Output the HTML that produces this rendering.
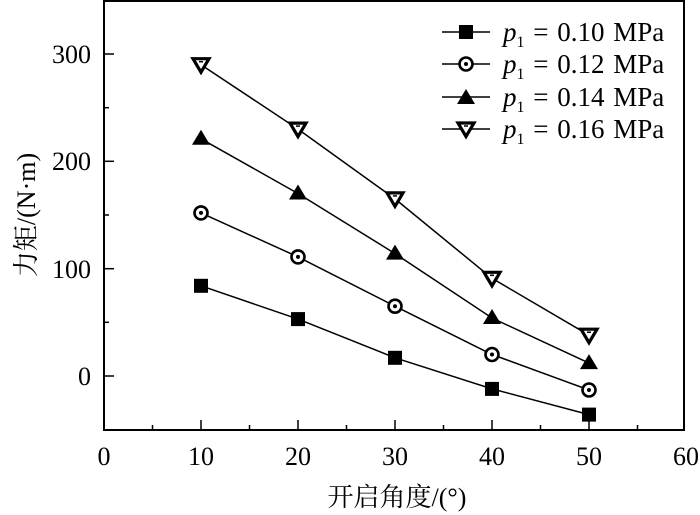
<!DOCTYPE html>
<html><head><style>body{margin:0;background:#fff}svg{display:block}</style></head><body>
<svg width="700" height="515" xmlns="http://www.w3.org/2000/svg" style="font-family:'Liberation Serif','Noto Serif CJK SC',serif">
<defs>
<g id="sq"><rect x="-7" y="-7" width="14" height="14" fill="#000"/></g>
<g id="ci"><circle r="6.5" fill="#fff" stroke="#000" stroke-width="2.6"/><circle r="2" fill="#000"/></g>
<g id="tr"><polygon points="0,-9 9,6 -9,6" fill="#000"/></g>
<g id="iv"><polygon points="-8,-6 8,-6 0,7.5" fill="#fff" stroke="#000" stroke-width="3.2" stroke-linejoin="miter"/><line x1="-2" y1="-3" x2="2" y2="-3" stroke="#000" stroke-width="1.5"/></g>
</defs>
<rect x="104" y="1" width="580" height="429" fill="none" stroke="#000" stroke-width="2"/>
<g stroke="#000" stroke-width="1.5">
<line x1="104" y1="376" x2="114" y2="376"/><line x1="104" y1="268.7" x2="114" y2="268.7"/><line x1="104" y1="161.3" x2="114" y2="161.3"/><line x1="104" y1="54" x2="114" y2="54"/>
<line x1="104" y1="322.3" x2="109" y2="322.3"/><line x1="104" y1="215" x2="109" y2="215"/><line x1="104" y1="107.7" x2="109" y2="107.7"/>
<line x1="201" y1="430" x2="201" y2="420"/><line x1="298" y1="430" x2="298" y2="420"/><line x1="395" y1="430" x2="395" y2="420"/><line x1="492" y1="430" x2="492" y2="420"/><line x1="589" y1="430" x2="589" y2="420"/>
<line x1="152.5" y1="430" x2="152.5" y2="425"/><line x1="249.5" y1="430" x2="249.5" y2="425"/><line x1="346.5" y1="430" x2="346.5" y2="425"/><line x1="443.5" y1="430" x2="443.5" y2="425"/><line x1="540.5" y1="430" x2="540.5" y2="425"/><line x1="637.5" y1="430" x2="637.5" y2="425"/>
</g>
<g style="font-size:26px" text-anchor="end">
<text x="91" y="385">0</text><text x="91" y="278">100</text><text x="91" y="170">200</text><text x="91" y="63">300</text>
</g>
<g style="font-size:26px" text-anchor="middle">
<text x="104" y="465">0</text><text x="201" y="465">10</text><text x="298" y="465">20</text><text x="395" y="465">30</text><text x="492" y="465">40</text><text x="589" y="465">50</text><text x="686" y="465">60</text>
</g>
<g style="font-size:26px" text-anchor="middle">
<text x="397" y="506">开启角度/(°)</text>
<text transform="translate(35,215) rotate(-90)">力矩/(N·m)</text>
</g>
<g fill="none" stroke="#000" stroke-width="1.5">
<polyline points="201,285.8 298,319.1 395,357.8 492,388.9 589,414.6"/>
<polyline points="201,212.9 298,256.9 395,306.2 492,354.5 589,390"/>
<polyline points="201,138.8 298,193.5 395,253.6 492,318 589,363.1"/>
<polyline points="201,64.7 298,129.1 395,198.9 492,278.3 589,335.2"/>
</g>
<use href="#sq" x="201" y="285.8"/><use href="#sq" x="298" y="319.1"/><use href="#sq" x="395" y="357.8"/><use href="#sq" x="492" y="388.9"/><use href="#sq" x="589" y="414.6"/>
<use href="#ci" x="201" y="212.9"/><use href="#ci" x="298" y="256.9"/><use href="#ci" x="395" y="306.2"/><use href="#ci" x="492" y="354.5"/><use href="#ci" x="589" y="390"/>
<use href="#tr" x="201" y="138.8"/><use href="#tr" x="298" y="193.5"/><use href="#tr" x="395" y="253.6"/><use href="#tr" x="492" y="318"/><use href="#tr" x="589" y="363.1"/>
<use href="#iv" x="201" y="64.7"/><use href="#iv" x="298" y="129.1"/><use href="#iv" x="395" y="198.9"/><use href="#iv" x="492" y="278.3"/><use href="#iv" x="589" y="335.2"/>
<g stroke="#000" stroke-width="1.5">
<line x1="442" y1="32" x2="490" y2="32"/><line x1="442" y1="64" x2="490" y2="64"/><line x1="442" y1="97" x2="490" y2="97"/><line x1="442" y1="129" x2="490" y2="129"/>
</g>
<use href="#sq" x="466" y="32"/><use href="#ci" x="466" y="64"/><use href="#tr" x="466" y="98"/><use href="#iv" x="466" y="129"/>
<g style="font-size:27px">
<text x="503" y="41"><tspan font-style="italic">p</tspan><tspan style="font-size:16px" dy="6">1</tspan><tspan dy="-6" style="word-spacing:2px"> = 0.10 MPa</tspan></text>
<text x="503" y="73"><tspan font-style="italic">p</tspan><tspan style="font-size:16px" dy="6">1</tspan><tspan dy="-6" style="word-spacing:2px"> = 0.12 MPa</tspan></text>
<text x="503" y="106"><tspan font-style="italic">p</tspan><tspan style="font-size:16px" dy="6">1</tspan><tspan dy="-6" style="word-spacing:2px"> = 0.14 MPa</tspan></text>
<text x="503" y="138"><tspan font-style="italic">p</tspan><tspan style="font-size:16px" dy="6">1</tspan><tspan dy="-6" style="word-spacing:2px"> = 0.16 MPa</tspan></text>
</g>
</svg>
</body></html>
